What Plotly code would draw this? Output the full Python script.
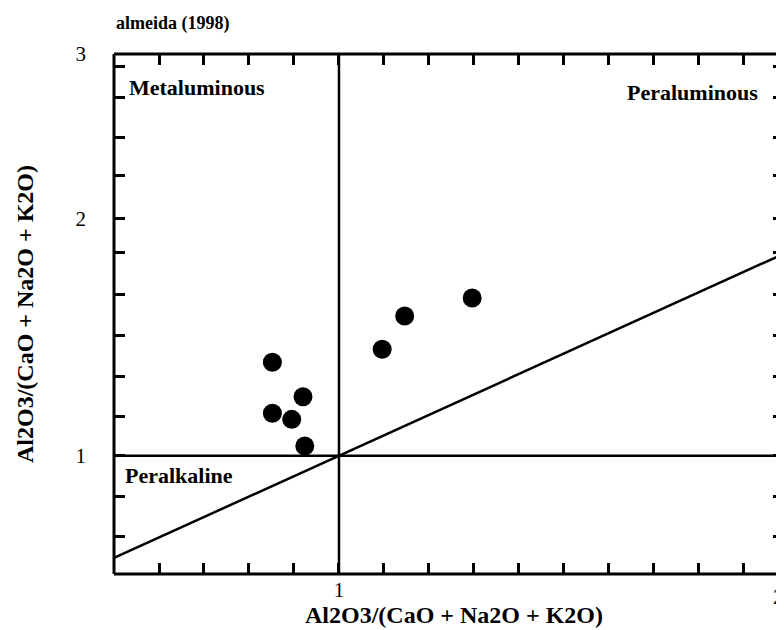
import plotly.graph_objects as go

# Sample data (A/CNK vs A/NK style Shand diagram)
x_vals = [0.852, 0.920, 0.852, 0.895, 0.924, 1.096, 1.146, 1.296]
y_vals = [1.393, 1.248, 1.179, 1.153, 1.041, 1.448, 1.588, 1.664]

# Reference lines
div_x = 1.0
div_y = 1.0
diag_x = [0.5, 2.0]
diag_y = [0.57, 1.86]

# Axis ranges and ticks
x_range = [0.5, 1.989]
y_range = [0.502, 2.691]
x_tickvals = [0.5, 0.6, 0.7, 0.8, 0.9, 1.0, 1.1, 1.2, 1.3, 1.4, 1.5, 1.6, 1.7, 1.8, 1.9]
x_ticktext = ["", "", "", "", "", "1", "", "", "", "", "", "", "", "", ""]
y_tickvals = [0.5, 0.66, 0.83, 1.0, 1.165, 1.335, 1.505, 1.68, 1.855, 2.0, 2.18, 2.34, 2.51, 2.64, 2.691]
y_ticktext = ["", "", "", "1", "", "", "", "", "", "2", "", "", "", "", "3"]

title_text = "almeida (1998)"
axis_title = "Al2O3/(CaO + Na2O + K2O)"
regions = ["Metaluminous", "Peraluminous", "Peralkaline"]

SERIF = "Liberation Serif, Times New Roman, serif"

fig = go.Figure()

fig.add_trace(go.Scatter(
    x=diag_x, y=diag_y, mode="lines",
    line=dict(color="black", width=2.5), hoverinfo="skip", showlegend=False))

fig.add_trace(go.Scatter(
    x=x_vals, y=y_vals, mode="markers",
    marker=dict(color="black", size=19, line=dict(width=0)),
    showlegend=False))

# divider lines
fig.add_shape(type="line", xref="x", yref="paper", x0=div_x, x1=div_x, y0=0, y1=1,
              line=dict(color="black", width=2.5))
fig.add_shape(type="line", xref="paper", yref="y", x0=0, x1=1, y0=div_y, y1=div_y,
              line=dict(color="black", width=2.5))
# frame (left, top, bottom)
fig.add_shape(type="line", xref="paper", yref="paper", x0=0, x1=0, y0=0, y1=1,
              line=dict(color="black", width=3))
fig.add_shape(type="line", xref="paper", yref="paper", x0=0, x1=1, y0=1, y1=1,
              line=dict(color="black", width=3))
fig.add_shape(type="line", xref="paper", yref="paper", x0=0, x1=1, y0=0, y1=0,
              line=dict(color="black", width=3))

# region labels
fig.add_annotation(x=0.5, y=2.55, xref="x", yref="y", text="<b>%s</b>" % regions[0],
                   showarrow=False, xanchor="left", yanchor="middle",
                   xshift=13, font=dict(family=SERIF, size=22, color="black"))
fig.add_annotation(x=1, y=2.53, xref="paper", yref="y", text="<b>%s</b>" % regions[1],
                   showarrow=False, xanchor="right", yanchor="middle",
                   xshift=-24, font=dict(family=SERIF, size=22, color="black"))
fig.add_annotation(x=0.5, y=0.915, xref="x", yref="y", text="<b>%s</b>" % regions[2],
                   showarrow=False, xanchor="left", yanchor="middle",
                   xshift=9, font=dict(family=SERIF, size=22, color="black"))

# "2" label at the right edge of the x axis
fig.add_annotation(x=1, y=0, xref="paper", yref="paper", text="2",
                   showarrow=False, xanchor="left", yanchor="top",
                   xshift=-13, yshift=-9, font=dict(family=SERIF, size=21, color="black"))

# title
fig.add_annotation(x=0, y=1, xref="paper", yref="paper", text="<b>%s</b>" % title_text,
                   showarrow=False, xanchor="left", yanchor="bottom",
                   xshift=0, yshift=18, font=dict(family=SERIF, size=18, color="black"))

# axis titles
fig.add_annotation(x=0.507, y=0, xref="paper", yref="paper", text="<b>%s</b>" % axis_title,
                   showarrow=False, xanchor="center", yanchor="middle",
                   yshift=-41, font=dict(family=SERIF, size=24, color="black"))
fig.add_annotation(x=0, y=0.5, xref="paper", yref="paper", text="<b>%s</b>" % axis_title,
                   showarrow=False, xanchor="center", yanchor="middle", textangle=-90,
                   xshift=-89, font=dict(family=SERIF, size=24, color="black"))

fig.update_layout(
    width=776, height=622,
    margin=dict(l=106, r=0, t=46, b=56, pad=0),
    plot_bgcolor="white", paper_bgcolor="white",
    font=dict(family=SERIF, size=21, color="black"),
    xaxis=dict(range=x_range, tickmode="array", tickvals=x_tickvals, ticktext=x_ticktext,
               ticks="inside", ticklen=11, tickwidth=2.5, tickcolor="black",
               mirror="ticks", showline=False, showgrid=False, zeroline=False,
               automargin=False,
               tickfont=dict(family=SERIF, size=21, color="black"),
               ticklabelstandoff=1),
    yaxis=dict(range=y_range, tickmode="array", tickvals=y_tickvals, ticktext=y_ticktext,
               ticks="inside", ticklen=11, tickwidth=2.5, tickcolor="black",
               mirror="ticks", showline=False, showgrid=False, zeroline=False,
               automargin=False,
               tickfont=dict(family=SERIF, size=21, color="black"),
               ticklabelstandoff=27),
)

fig.write_html("out.html")
